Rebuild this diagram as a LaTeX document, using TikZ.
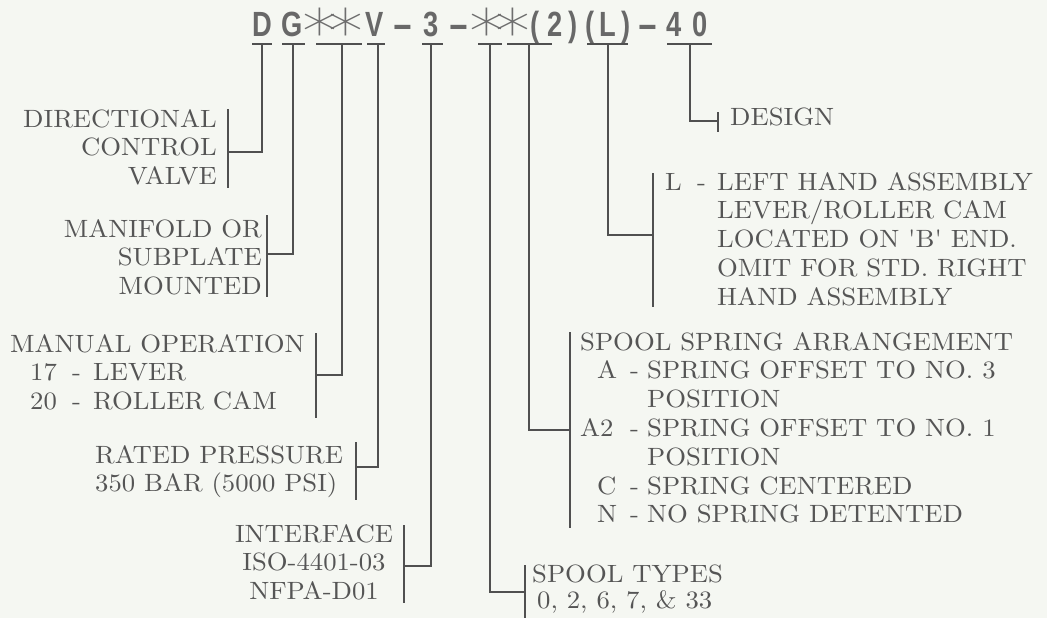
\documentclass[tikz,border=0pt]{standalone}
\usepackage{fontspec}
\usepackage{graphicx}
\newfontfamily\lblfont{lmroman10-regular}[Extension=.otf, FakeStretch=1.068]
\newfontfamily\titlefont{Liberation Sans}[FakeStretch=0.78]
\newfontfamily\starfont{DejaVu Sans ExtraLight}
\definecolor{paper}{HTML}{F5F7F2}
\definecolor{txtgray}{HTML}{555555}
\definecolor{linegray}{HTML}{505050}
\definecolor{titlegray}{HTML}{686868}
\definecolor{stargray}{HTML}{6E6E6E}
\newcommand\tb[2]{\makebox[#1pt][c]{#2}}
\newcommand\tast{\raisebox{-17pt}{\scalebox{2.0}[1.75]{\color{stargray}\starfont\mdseries *}}}
\newcommand\tdash{\scalebox{2.3}[1]{-}}
\begin{document}
\begin{tikzpicture}[x=1pt,y=-1pt,
  lbl/.style={inner sep=0pt, text=txtgray, font=\lblfont\fontsize{25}{28.8}\selectfont},
  ttl/.style={inner sep=0pt, text=titlegray, font=\titlefont\bfseries\fontsize{35}{40}\selectfont},
  conn/.style={draw=linegray, line width=1.3pt},
  brk/.style={draw=linegray, line width=1.3pt}]
\fill[paper] (0,0) rectangle (1047,618);
\useasboundingbox (0,0) rectangle (1047,618);

% title
\node[ttl, anchor=base west] (title) at (248,37) {\tb{28.5}{D}\tb{30}{G}\tb{26.5}{\tast}\tb{26.5}{\tast}\tb{29}{V}\tb{28}{\tdash}\tb{28}{3}\tb{29}{\tdash}\tb{27.5}{\tast}\tb{23.5}{\tast}\tb{20.5}{(}\tb{19}{2}\tb{18}{)}\tb{16.5}{(}\tb{18}{L}\tb{19.5}{)}\tb{24.5}{\tdash}\tb{27}{4}\tb{25}{0}};

% labels
\node[lbl, anchor=base east] (dcv) at (217,127) {\begin{tabular}[t]{@{}r@{}}DIRECTIONAL\\CONTROL\\VALVE\end{tabular}};
\node[lbl, anchor=base east] (mnt) at (262,237) {\begin{tabular}[t]{@{}r@{}}MANIFOLD OR\\SUBPLATE\\MOUNTED\end{tabular}};
\node[lbl, anchor=base west] (man) at (10,352) {\begin{tabular}[t]{@{}l@{}}MANUAL OPERATION\\
  \hspace*{20pt}\makebox[42pt][l]{17}\makebox[21pt][l]{-}LEVER\\
  \hspace*{20pt}\makebox[42pt][l]{20}\makebox[21pt][l]{-}ROLLER CAM\end{tabular}};
\node[lbl, anchor=base west] (prs) at (95,463) {\begin{tabular}[t]{@{}l@{}}RATED PRESSURE\\350 BAR (5000 PSI)\end{tabular}};
\node[lbl, anchor=base] (ifc) at (314,542) {\begin{tabular}[t]{@{}c@{}}INTERFACE\\ISO-4401-03\\NFPA-D01\end{tabular}};
\node[lbl, anchor=base west] (dsg) at (730,125) {DESIGN};
\node[lbl, anchor=base west] (lh) at (665,190) {\begin{tabular}[t]{@{}l@{}}\makebox[32pt][l]{L}\makebox[20pt][l]{-}LEFT HAND ASSEMBLY\\
  \hspace*{52pt}LEVER/ROLLER CAM\\
  \hspace*{52pt}LOCATED ON 'B' END.\\
  \hspace*{52pt}OMIT FOR STD. RIGHT\\
  \hspace*{52pt}HAND ASSEMBLY\end{tabular}};
\node[lbl, anchor=base west] (spr) at (580,350) {\begin{tabular}[t]{@{}l@{}}SPOOL SPRING ARRANGEMENT\\
  \hspace*{17pt}\makebox[33pt][l]{A}\makebox[17pt][l]{-}SPRING OFFSET TO NO. 3\\
  \hspace*{67pt}POSITION\\
  \makebox[50pt][l]{A2}\makebox[17pt][l]{-}SPRING OFFSET TO NO. 1\\
  \hspace*{67pt}POSITION\\
  \hspace*{17pt}\makebox[33pt][l]{C}\makebox[17pt][l]{-}SPRING CENTERED\\
  \hspace*{17pt}\makebox[33pt][l]{N}\makebox[17pt][l]{-}NO SPRING DETENTED\end{tabular}};
\node[lbl, anchor=base west] (spt) at (532,582) {\begin{tabular}[t]{@{}l@{}}SPOOL TYPES\\[-2.8pt]
  \hspace*{5pt}0, 2, 6, 7, \& 33\end{tabular}};

% bar ends and stem tops under the title
\coordinate (b1L) at (252,44); \coordinate (b1R) at (272,44); \coordinate (s1) at (262,44);
\coordinate (b2L) at (282,44); \coordinate (b2R) at (305,44); \coordinate (s2) at (293,44);
\coordinate (b3L) at (316,44); \coordinate (b3R) at (362,44); \coordinate (s3) at (342,44);
\coordinate (b4L) at (367,44); \coordinate (b4R) at (385,44); \coordinate (s4) at (378,44);
\coordinate (b5L) at (422,44); \coordinate (b5R) at (443,44); \coordinate (s5) at (431,44);
\coordinate (b6L) at (478,44); \coordinate (b6R) at (502,44); \coordinate (s6) at (490,44);
\coordinate (b7L) at (507,44); \coordinate (b7R) at (552,44); \coordinate (s7) at (529,44);
\coordinate (b8L) at (587,44); \coordinate (b8R) at (628,44); \coordinate (s8) at (608,44);
\coordinate (b9L) at (667,44); \coordinate (b9R) at (712,44); \coordinate (s9) at (690,44);

% bracket ends and joints
\coordinate (c1) at (228,152); \coordinate (t1) at (228,109); \coordinate (u1) at (228,188);
\coordinate (c2) at (267,254); \coordinate (t2) at (267,215); \coordinate (u2) at (267,297);
\coordinate (c3) at (316,375); \coordinate (t3) at (316,333); \coordinate (u3) at (316,418);
\coordinate (c4) at (356,467); \coordinate (t4) at (356,442); \coordinate (u4) at (356,500);
\coordinate (c5) at (404,566); \coordinate (t5) at (404,525); \coordinate (u5) at (404,603);
\coordinate (c6) at (525,592); \coordinate (t6) at (525,565); \coordinate (u6) at (525,618);
\coordinate (c7) at (570,430); \coordinate (t7) at (570,332); \coordinate (u7) at (570,528);
\coordinate (c8) at (653,235); \coordinate (t8) at (653,173); \coordinate (u8) at (653,307);
\coordinate (c9) at (718,121); \coordinate (t9) at (718,112); \coordinate (u9) at (718,132);

\foreach \k in {1,...,9}{
  \draw[conn] (b\k L) -- (b\k R);
  \draw[conn] (s\k) |- (c\k);
  \draw[brk] (t\k) -- (u\k);
}
\end{tikzpicture}
\end{document}
